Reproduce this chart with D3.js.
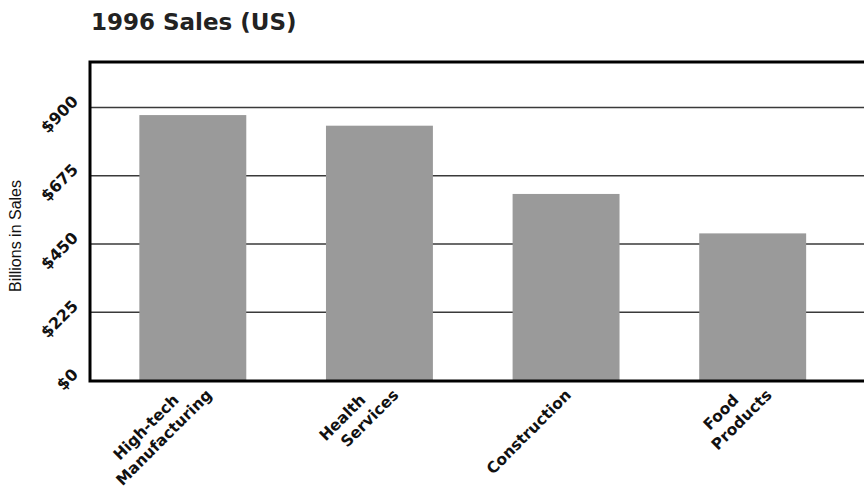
<!DOCTYPE html>
<html>
<head>
<meta charset="utf-8">
<script src="https://cdn.jsdelivr.net/npm/d3@7/dist/d3.min.js"></script>
<style>
  html, body { margin: 0; padding: 0; background: #fff; }
  svg { display: block; }
</style>
</head>
<body>
<svg id="chart" width="864" height="489"></svg>
<script>
// ---- Data ----
const categories = ["High-tech\nManufacturing", "Health\nServices", "Construction", "Food\nProducts"];
const sales = [875, 840, 615, 485];
const yTicks = [0, 225, 450, 675, 900];
const yTickLabels = ["$0", "$225", "$450", "$675", "$900"];
const titleText = "1996 Sales (US)";
const yAxisTitle = "Billions in Sales";

// ---- Layout ----
const W = 864, H = 489;
const plot = { left: 90, top: 62, right: 872, bottom: 381 };

const svg = d3.select("#chart");

const x = d3.scaleBand()
  .domain(categories)
  .range([99.5, 846])
  .paddingInner(0.427)
  .paddingOuter(0.2135);

const y = d3.scaleLinear()
  .domain([0, 1050])
  .range([380.5, 62]);

// Title
svg.append("text")
  .attr("x", 91)
  .attr("y", 30)
  .attr("font-family", "DejaVu Sans, sans-serif")
  .attr("font-weight", "bold")
  .attr("font-size", 23)
  .attr("fill", "#222")
  .text(titleText);

// Gridlines
svg.append("g")
  .selectAll("line")
  .data(yTicks.filter(d => d > 0))
  .join("line")
  .attr("x1", plot.left)
  .attr("x2", W + 10)
  .attr("y1", d => y(d))
  .attr("y2", d => y(d))
  .attr("stroke", "#3a3a3a")
  .attr("stroke-width", 1.6);

// Bars
svg.append("g")
  .selectAll("rect")
  .data(categories.map((c, i) => ({ c, v: sales[i] })))
  .join("rect")
  .attr("x", d => x(d.c))
  .attr("width", x.bandwidth())
  .attr("y", d => y(d.v))
  .attr("height", d => y(0) - y(d.v))
  .attr("fill", "#9a9a9a");

// Frame
svg.append("rect")
  .attr("x", plot.left)
  .attr("y", plot.top)
  .attr("width", plot.right - plot.left)
  .attr("height", plot.bottom - plot.top)
  .attr("fill", "none")
  .attr("stroke", "#000")
  .attr("stroke-width", 3);

// Y tick labels
svg.append("g")
  .selectAll("text")
  .data(yTicks)
  .join("text")
  .attr("transform", d => `translate(79,${y(d) - 5}) rotate(-45)`)
  .attr("text-anchor", "end")
  .attr("font-family", "DejaVu Sans, sans-serif")
  .attr("font-weight", "bold")
  .attr("font-size", 16)
  .attr("fill", "#111")
  .text((d, i) => yTickLabels[i]);

// Y axis title
svg.append("text")
  .attr("transform", "translate(21,236) rotate(-90)")
  .attr("text-anchor", "middle")
  .attr("font-family", "Liberation Sans, Arial, sans-serif")
  .attr("font-size", 16)
  .attr("fill", "#111")
  .text(yAxisTitle);

// X category labels (rotated, multi-line)
const xl = svg.append("g");
categories.forEach(c => {
  const lines = c.split("\n");
  const n = lines.length;
  const cx = x(c) + x.bandwidth() / 2;
  const lastX = cx + 6 + 14 * (n - 1);
  const lastY = 396;
  lines.forEach((ln, i) => {
    const k = n - 1 - i; // lines above the last
    xl.append("text")
      .attr("transform", `translate(${lastX - 33 * k},${lastY + 5 * k}) rotate(-45)`)
      .attr("text-anchor", "end")
      .attr("font-family", "DejaVu Sans, sans-serif")
      .attr("font-weight", "bold")
      .attr("font-size", 15.5)
      .attr("fill", "#111")
      .text(ln);
  });
});
</script>
</body>
</html>
